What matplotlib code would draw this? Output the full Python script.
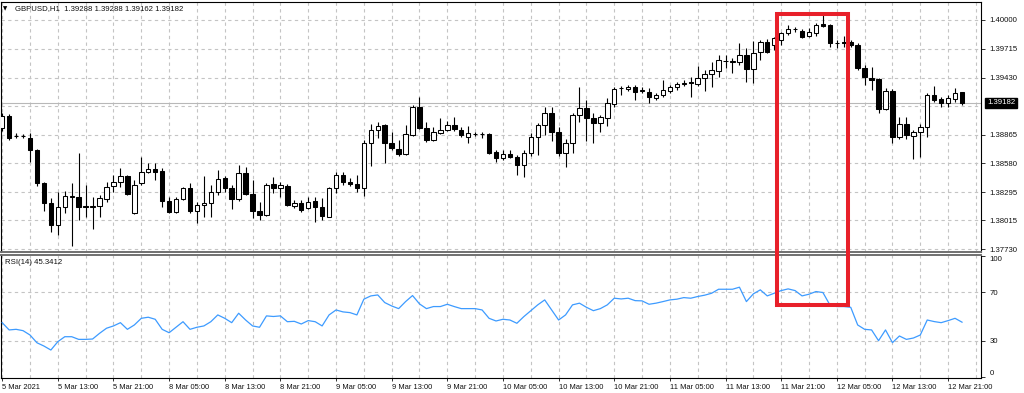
import numpy as np
import matplotlib
matplotlib.use("Agg")
import matplotlib.pyplot as plt
from matplotlib.patches import Rectangle

plt.rcParams['font.family'] = ['Liberation Sans', 'DejaVu Sans']

# GBPUSD H1, 5 Mar 2021 05:00 .. 12 Mar 2021 23:00
opens = [
    1.38931, 1.39050, 1.38852, 1.38852, 1.38832, 1.38713, 1.38386, 1.38188, 1.37970, 1.38149,
    1.38248, 1.38248, 1.38154, 1.38149, 1.38154, 1.38228, 1.38357, 1.38396, 1.38456, 1.38089,
    1.38389, 1.38492, 1.38522, 1.38508, 1.38211, 1.38102, 1.38225, 1.38334, 1.38112, 1.38165,
    1.38185, 1.38297, 1.38433, 1.38334, 1.38225, 1.38482, 1.38277, 1.38112, 1.38069, 1.38376,
    1.38334, 1.38360, 1.38159, 1.38185, 1.38136, 1.38211, 1.38146, 1.38053, 1.38334, 1.38465,
    1.38399, 1.38376, 1.38334, 1.38779, 1.38911, 1.38960, 1.38785, 1.38720, 1.38673, 1.38861,
    1.39136, 1.38928, 1.38812, 1.38884, 1.38911, 1.38960, 1.38911, 1.38845, 1.38871, 1.38871,
    1.38871, 1.38696, 1.38631, 1.38673, 1.38647, 1.38565, 1.38686, 1.38839, 1.38960, 1.39076,
    1.38894, 1.38680, 1.38785, 1.39060, 1.39126, 1.39027, 1.38977, 1.39027, 1.39168, 1.39324,
    1.39314, 1.39334, 1.39300, 1.39290, 1.39225, 1.39257, 1.39300, 1.39334, 1.39366, 1.39389,
    1.39366, 1.39423, 1.39465, 1.39498, 1.39594, 1.39587, 1.39587, 1.39653, 1.39512, 1.39686,
    1.39785, 1.39753, 1.39802, 1.39868, 1.39908, 1.39894, 1.39842, 1.39868, 1.39960, 1.39950,
    1.39775, 1.39785, 1.39785, 1.39753, 1.39522, 1.39423, 1.39413, 1.39116, 1.39300, 1.38839,
    1.38970, 1.38852, 1.38894, 1.38944, 1.39257, 1.39218, 1.39175, 1.39215, 1.39288]
highs = [
    1.39079, 1.39069, 1.38881, 1.38871, 1.38881, 1.38723, 1.38396, 1.38238, 1.38297, 1.38307,
    1.38386, 1.38683, 1.38366, 1.38248, 1.38267, 1.38396, 1.38465, 1.38535, 1.38465, 1.38416,
    1.38644, 1.38584, 1.38584, 1.38535, 1.38248, 1.38251, 1.38350, 1.38389, 1.38201, 1.38456,
    1.38366, 1.38515, 1.38456, 1.38366, 1.38565, 1.38548, 1.38416, 1.38201, 1.38383, 1.38449,
    1.38399, 1.38376, 1.38218, 1.38218, 1.38251, 1.38251, 1.38235, 1.38350, 1.38498, 1.38498,
    1.38433, 1.38465, 1.38812, 1.38970, 1.38993, 1.38970, 1.38894, 1.38812, 1.38960, 1.39158,
    1.39241, 1.38993, 1.38944, 1.39027, 1.39003, 1.39043, 1.38944, 1.38951, 1.38894, 1.38894,
    1.38881, 1.38713, 1.38713, 1.38713, 1.38663, 1.38713, 1.38878, 1.38983, 1.39139, 1.39136,
    1.38938, 1.38819, 1.39079, 1.39334, 1.39208, 1.39079, 1.39060, 1.39225, 1.39334, 1.39347,
    1.39356, 1.39356, 1.39334, 1.39324, 1.39274, 1.39406, 1.39356, 1.39389, 1.39406, 1.39433,
    1.39545, 1.39505, 1.39587, 1.39653, 1.39653, 1.39621, 1.39769, 1.39720, 1.39795, 1.39802,
    1.39809, 1.39832, 1.39884, 1.39950, 1.39934, 1.39908, 1.39918, 1.39967, 1.40050, 1.39960,
    1.39802, 1.39842, 1.39802, 1.39769, 1.39555, 1.39538, 1.39423, 1.39324, 1.39317, 1.39040,
    1.39037, 1.38911, 1.38970, 1.39274, 1.39347, 1.39241, 1.39257, 1.39324, 1.39288]
lows = [
    1.38901, 1.38812, 1.38832, 1.38832, 1.38594, 1.38357, 1.38109, 1.37901, 1.37872, 1.38089,
    1.37763, 1.38020, 1.38050, 1.37931, 1.38050, 1.38198, 1.38297, 1.38347, 1.38267, 1.38079,
    1.38366, 1.38485, 1.38416, 1.38152, 1.38086, 1.38092, 1.38218, 1.38092, 1.37987, 1.38053,
    1.38053, 1.38267, 1.38300, 1.38126, 1.38211, 1.38267, 1.38040, 1.38020, 1.38060, 1.38290,
    1.38251, 1.38159, 1.38136, 1.38102, 1.38126, 1.38003, 1.38020, 1.38050, 1.38290, 1.38366,
    1.38357, 1.38300, 1.38258, 1.38555, 1.38829, 1.38587, 1.38713, 1.38654, 1.38663, 1.38852,
    1.38921, 1.38795, 1.38802, 1.38871, 1.38901, 1.38901, 1.38845, 1.38785, 1.38852, 1.38829,
    1.38673, 1.38597, 1.38614, 1.38631, 1.38465, 1.38443, 1.38654, 1.38663, 1.38861, 1.38805,
    1.38654, 1.38542, 1.38686, 1.38993, 1.38805, 1.38785, 1.38894, 1.38951, 1.39142, 1.39257,
    1.39300, 1.39208, 1.39280, 1.39181, 1.39208, 1.39235, 1.39280, 1.39307, 1.39347, 1.39241,
    1.39347, 1.39300, 1.39334, 1.39439, 1.39522, 1.39472, 1.39555, 1.39389, 1.39379, 1.39604,
    1.39670, 1.39703, 1.39753, 1.39852, 1.39884, 1.39819, 1.39829, 1.39842, 1.39934, 1.39730,
    1.39720, 1.39736, 1.39736, 1.39505, 1.39356, 1.39307, 1.39076, 1.39109, 1.38785, 1.38819,
    1.38819, 1.38621, 1.38641, 1.38839, 1.39191, 1.39142, 1.39142, 1.39191, 1.39162]
closes = [
    1.39050, 1.38832, 1.38847, 1.38847, 1.38713, 1.38386, 1.38188, 1.37970, 1.38149, 1.38258,
    1.38253, 1.38149, 1.38149, 1.38154, 1.38238, 1.38347, 1.38396, 1.38456, 1.38277, 1.38366,
    1.38498, 1.38522, 1.38492, 1.38211, 1.38102, 1.38228, 1.38334, 1.38112, 1.38168, 1.38185,
    1.38300, 1.38423, 1.38334, 1.38225, 1.38482, 1.38277, 1.38109, 1.38069, 1.38366, 1.38334,
    1.38366, 1.38168, 1.38185, 1.38119, 1.38201, 1.38152, 1.38060, 1.38334, 1.38465, 1.38399,
    1.38376, 1.38334, 1.38779, 1.38911, 1.38951, 1.38785, 1.38730, 1.38673, 1.38871, 1.39136,
    1.38928, 1.38812, 1.38894, 1.38911, 1.38960, 1.38918, 1.38861, 1.38884, 1.38871, 1.38868,
    1.38686, 1.38631, 1.38673, 1.38647, 1.38565, 1.38686, 1.38839, 1.38960, 1.39082, 1.38894,
    1.38680, 1.38785, 1.39060, 1.39126, 1.39027, 1.38977, 1.39043, 1.39175, 1.39314, 1.39327,
    1.39334, 1.39290, 1.39302, 1.39235, 1.39257, 1.39307, 1.39334, 1.39366, 1.39379, 1.39373,
    1.39423, 1.39465, 1.39505, 1.39604, 1.39594, 1.39589, 1.39653, 1.39512, 1.39676, 1.39785,
    1.39686, 1.39822, 1.39868, 1.39908, 1.39911, 1.39835, 1.39884, 1.39950, 1.39941, 1.39769,
    1.39777, 1.39769, 1.39753, 1.39522, 1.39433, 1.39406, 1.39116, 1.39300, 1.38845, 1.38970,
    1.38861, 1.38894, 1.38944, 1.39257, 1.39208, 1.39175, 1.39225, 1.39274, 1.39182]

rsi = [
    44.9, 38.9, 39.4, 38.3, 34.7, 28.3, 25.6, 22.3, 29.2, 33.3,
    33.3, 31.1, 31.1, 31.4, 36.1, 40.3, 42.2, 44.9, 39.4, 43.0,
    48.5, 49.4, 47.7, 39.4, 36.6, 41.1, 45.7, 39.4, 41.1, 42.2,
    45.7, 51.3, 48.5, 44.9, 52.7, 47.1, 42.2, 41.1, 50.5, 50.0,
    50.5, 45.7, 46.0, 43.8, 46.6, 45.7, 42.2, 51.3, 55.4, 53.8,
    53.2, 51.3, 64.3, 67.0, 67.8, 61.5, 58.7, 56.5, 62.3, 67.3,
    60.4, 56.5, 58.2, 58.2, 60.1, 58.2, 56.5, 56.5, 56.5, 55.4,
    48.5, 46.3, 47.7, 47.1, 44.4, 49.9, 54.8, 59.6, 63.7, 55.4,
    47.1, 51.3, 59.6, 61.0, 57.6, 54.8, 56.5, 59.6, 65.1, 64.5,
    65.1, 63.1, 62.9, 60.1, 61.0, 62.3, 63.7, 64.3, 65.6, 65.1,
    66.5, 67.6, 69.2, 72.5, 72.5, 72.5, 74.2, 62.3, 68.7, 72.0,
    67.0, 69.2, 71.4, 72.8, 71.4, 67.0, 68.4, 70.6, 69.8, 59.6,
    58.2, 58.2, 57.6, 43.0, 39.4, 38.9, 30.0, 38.9, 28.4, 33.9,
    31.1, 32.2, 34.7, 47.1, 45.8, 44.9, 46.6, 48.5, 45.3]

time_labels = ['5 Mar 2021', '5 Mar 13:00', '5 Mar 21:00', '8 Mar 05:00', '8 Mar 13:00',
               '8 Mar 21:00', '9 Mar 05:00', '9 Mar 13:00', '9 Mar 21:00', '10 Mar 05:00',
               '10 Mar 13:00', '10 Mar 21:00', '11 Mar 05:00', '11 Mar 13:00', '11 Mar 21:00',
               '12 Mar 05:00', '12 Mar 13:00', '12 Mar 21:00']
price_ticks = [1.40000, 1.39715, 1.39430, 1.38865, 1.38580, 1.38295, 1.38015, 1.37730]
price_grid = [1.40000, 1.39715, 1.39430, 1.39145, 1.38865, 1.38580, 1.38295, 1.38015, 1.37730]
rsi_ticks = [0, 30, 70, 100]

W, H = 1024, 393
fig = plt.figure(figsize=(W / 100, H / 100), dpi=100)
fig.patch.set_facecolor('white')


def px_axes(x0, y0, x1, y1):
    # axes placed by pixel box (top-left origin)
    return fig.add_axes([x0 / W, 1 - y1 / H, (x1 - x0) / W, (y1 - y0) / H])


ax = px_axes(1, 2, 981, 252)
ax2 = px_axes(1, 254.5, 981, 378)

x = np.arange(len(opens))
o = np.array(opens)
h = np.array(highs)
l = np.array(lows)
c = np.array(closes)
up = c > o

grid_kw = dict(color='#c4c4c4', lw=0.8, linestyle=(0, (3, 3)), zorder=0)

# candles
ax.vlines(x, l, h, color='black', lw=0.8, zorder=3)
body_bottom = np.minimum(o, c)
body_height = np.maximum(np.abs(c - o), 0.000006)
ax.bar(x, body_height, bottom=body_bottom, width=0.64,
       color=['white' if u else 'black' for u in up],
       edgecolor='black', linewidth=0.75, zorder=4)

for p in price_grid:
    ax.axhline(p, **grid_kw)
for g in range(0, 141, 4):
    ax.axvline(g, **grid_kw)
    ax2.axvline(g, **grid_kw)
ax.axhline(closes[-1], color='#b8b8b8', lw=0.8, zorder=1)

ax.set_xlim(-0.17, 140.73)
ax.set_ylim(1.37703, 1.40178)
ax.yaxis.tick_right()
ax.set_yticks(price_ticks)
ax.set_yticklabels([f'{p:.5f}' for p in price_ticks])
ax.tick_params(axis='y', length=3, width=0.6, pad=3, labelsize=5.6, colors='#111111')
ax.set_xticks([])

ax.text(1.006, closes[-1], f'{closes[-1]:.5f}', transform=ax.get_yaxis_transform(),
        ha='left', va='center', fontsize=5.6, color='white', zorder=10,
        bbox=dict(boxstyle='square,pad=0.2', fc='black', ec='black'))

# RSI panel
ax2.plot(x, rsi, color='#3d9bff', lw=0.9, zorder=3)
for r in (30, 70):
    ax2.axhline(r, **grid_kw)
ax2.set_xlim(-0.17, 140.73)
ax2.set_ylim(-0.8, 101.2)
ax2.yaxis.tick_right()
ax2.set_yticks(rsi_ticks)
ax2.set_yticklabels([str(t) for t in rsi_ticks])
ax2.tick_params(axis='y', length=3, width=0.6, pad=3, labelsize=5.6, colors='#111111')
ylabs = ax2.get_yticklabels()
ylabs[0].set_va('bottom')
ylabs[-1].set_va('top')
ax2.set_xticks(np.arange(0, 137, 8))
ax2.set_xticklabels(time_labels, ha='left')
ax2.tick_params(axis='x', length=2.5, width=0.6, pad=2, labelsize=5.4, colors='#111111')

for a in (ax, ax2):
    for s in a.spines.values():
        s.set_color('black')
        s.set_linewidth(0.8)
ax.spines['bottom'].set_color('#707070')
ax.spines['bottom'].set_linewidth(1.4)
ax2.spines['top'].set_color('#707070')
ax2.spines['top'].set_linewidth(1.4)

fig.text(5.3 / W, 1 - 9 / H, '\u25bc', fontsize=4, family='DejaVu Sans',
         ha='center', va='center', color='black')
fig.text(15 / W, 1 - 9 / H, 'GBPUSD,H1  1.39288 1.39288 1.39162 1.39182',
         fontsize=5.6, ha='left', va='center', color='#111111')
fig.text(5 / W, 1 - 262 / H, 'RSI(14) 45.3412', fontsize=5.6, ha='left', va='center',
         color='#111111')

# red highlight box spanning both panels
fig.add_artist(Rectangle((776.5 / W, 1 - 304.5 / H), 71 / W, 291 / H,
                         transform=fig.transFigure, fill=False, ec='#e8202a',
                         lw=2.9, joinstyle='miter', zorder=20))

fig.savefig('out.png', dpi=100, facecolor='white')
